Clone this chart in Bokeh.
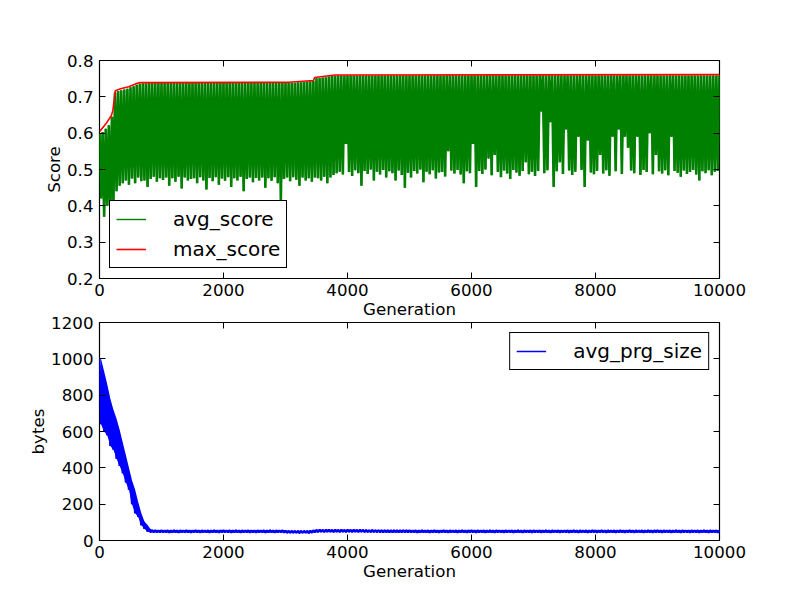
from bokeh.plotting import figure
from bokeh.models import Range1d, LinearAxis, FixedTicker, Legend, LegendItem
from bokeh.layouts import column
from bokeh.embed import file_html
from bokeh.resources import INLINE

# ---------------- data ----------------
generation = list(range(0, 10001, 25))

avg_score = [
    0.600, 0.420, 0.603, 0.370, 0.612, 0.400, 0.622, 0.375, 0.645, 0.410, 0.712, 0.440, 0.716, 0.455, 0.718, 0.462, 0.720, 0.470, 0.722, 0.458,
    0.726, 0.475, 0.729, 0.462, 0.733, 0.478, 0.736, 0.468, 0.737, 0.470, 0.737, 0.452, 0.738, 0.474, 0.738, 0.480, 0.738, 0.466, 0.738, 0.476,
    0.738, 0.471, 0.738, 0.478, 0.738, 0.455, 0.738, 0.476, 0.738, 0.466, 0.738, 0.480, 0.738, 0.448, 0.738, 0.478, 0.738, 0.470, 0.738, 0.474,
    0.738, 0.476, 0.738, 0.462, 0.738, 0.479, 0.738, 0.470, 0.738, 0.445, 0.738, 0.477, 0.738, 0.468, 0.738, 0.479, 0.738, 0.458, 0.738, 0.475,
    0.738, 0.469, 0.738, 0.479, 0.738, 0.452, 0.738, 0.476, 0.738, 0.470, 0.738, 0.480, 0.738, 0.440, 0.738, 0.474, 0.738, 0.478, 0.738, 0.465,
    0.738, 0.477, 0.738, 0.470, 0.738, 0.478, 0.738, 0.450, 0.738, 0.476, 0.738, 0.469, 0.738, 0.479, 0.738, 0.462, 0.738, 0.410, 0.738, 0.474,
    0.738, 0.478, 0.738, 0.468, 0.739, 0.479, 0.739, 0.472, 0.740, 0.455, 0.740, 0.478, 0.741, 0.470, 0.742, 0.476, 0.743, 0.466, 0.744, 0.478,
    0.751, 0.476, 0.752, 0.470, 0.753, 0.480, 0.754, 0.462, 0.756, 0.478, 0.757, 0.485, 0.758, 0.490, 0.759, 0.494, 0.759, 0.486, 0.759, 0.570,
    0.759, 0.493, 0.759, 0.482, 0.759, 0.498, 0.759, 0.490, 0.759, 0.455, 0.759, 0.496, 0.759, 0.488, 0.759, 0.500, 0.759, 0.470, 0.759, 0.494,
    0.759, 0.486, 0.759, 0.499, 0.759, 0.478, 0.759, 0.495, 0.759, 0.490, 0.759, 0.470, 0.759, 0.497, 0.759, 0.485, 0.759, 0.450, 0.759, 0.491,
    0.759, 0.478, 0.759, 0.496, 0.759, 0.489, 0.759, 0.500, 0.759, 0.465, 0.759, 0.494, 0.759, 0.487, 0.759, 0.498, 0.759, 0.475, 0.759, 0.492,
    0.759, 0.493, 0.759, 0.481, 0.759, 0.550, 0.759, 0.497, 0.759, 0.489, 0.759, 0.499, 0.759, 0.486, 0.759, 0.462, 0.759, 0.495, 0.759, 0.490,
    0.759, 0.570, 0.759, 0.452, 0.759, 0.496, 0.759, 0.488, 0.759, 0.500, 0.759, 0.530, 0.759, 0.484, 0.759, 0.540, 0.759, 0.493, 0.759, 0.479,
    0.759, 0.497, 0.759, 0.489, 0.759, 0.474, 0.759, 0.499, 0.759, 0.492, 0.759, 0.483, 0.759, 0.496, 0.759, 0.520, 0.759, 0.487, 0.759, 0.494,
    0.759, 0.482, 0.759, 0.496, 0.759, 0.660, 0.759, 0.490, 0.759, 0.498, 0.759, 0.630, 0.759, 0.452, 0.759, 0.495, 0.759, 0.520, 0.759, 0.488,
    0.759, 0.610, 0.759, 0.497, 0.759, 0.485, 0.759, 0.494, 0.759, 0.590, 0.759, 0.499, 0.759, 0.452, 0.759, 0.580, 0.759, 0.492, 0.759, 0.487,
    0.759, 0.496, 0.759, 0.540, 0.759, 0.489, 0.759, 0.498, 0.759, 0.483, 0.759, 0.590, 0.759, 0.495, 0.759, 0.610, 0.759, 0.488, 0.759, 0.590,
    0.759, 0.560, 0.759, 0.497, 0.759, 0.490, 0.759, 0.590, 0.759, 0.485, 0.759, 0.499, 0.759, 0.493, 0.759, 0.600, 0.759, 0.487, 0.759, 0.540,
    0.759, 0.495, 0.759, 0.489, 0.759, 0.498, 0.759, 0.484, 0.759, 0.590, 0.759, 0.496, 0.759, 0.491, 0.759, 0.480, 0.759, 0.497, 0.759, 0.488,
    0.759, 0.493, 0.759, 0.499, 0.759, 0.486, 0.759, 0.470, 0.759, 0.495, 0.759, 0.490, 0.759, 0.498, 0.759, 0.484, 0.759, 0.494, 0.759, 0.496,
    0.759,
]

max_gen = [0, 100, 190, 215, 255, 340, 470, 600, 650, 3050, 3450, 3470, 3600, 3800, 10000]
max_score = [0.604, 0.625, 0.648, 0.662, 0.717, 0.722, 0.728, 0.737, 0.739, 0.740, 0.745, 0.753, 0.756, 0.760, 0.761]

avg_prg_size = [
    1000, 640, 930, 600, 860, 580, 780, 520, 720, 500, 670, 450, 610, 410, 540, 370, 470, 320, 400, 280,
    330, 200, 280, 150, 210, 130, 150, 85, 105, 65, 85, 50, 62, 46, 57, 45, 56, 46, 55, 45,
    56, 45, 55, 46, 56, 44, 55, 45, 56, 46, 55, 44, 56, 45, 55, 46, 56, 45, 55, 44,
    55, 46, 56, 45, 55, 44, 56, 46, 55, 45, 56, 44, 55, 46, 56, 45, 55, 44, 56, 45,
    56, 45, 55, 46, 56, 44, 55, 45, 56, 46, 55, 44, 56, 45, 55, 46, 56, 44, 55, 45,
    55, 44, 56, 45, 55, 46, 56, 44, 55, 45, 56, 46, 55, 44, 56, 45, 55, 46, 56, 44,
    54, 43, 53, 42, 53, 42, 52, 42, 53, 41, 52, 42, 53, 42, 52, 41, 54, 43, 56, 45,
    58, 47, 59, 48, 58, 47, 59, 48, 59, 48, 58, 47, 59, 48, 58, 47, 59, 48, 58, 47,
    59, 48, 58, 47, 59, 48, 58, 47, 59, 48, 58, 47, 58, 47, 57, 46, 58, 47, 57, 46,
    57, 46, 56, 45, 57, 46, 56, 45, 56, 45, 57, 46, 56, 45, 56, 45, 57, 46, 56, 45,
    56, 45, 55, 46, 56, 44, 55, 45, 56, 46, 55, 45, 56, 44, 55, 46, 56, 45, 55, 44,
    55, 46, 56, 45, 55, 44, 56, 46, 55, 45, 56, 44, 55, 46, 56, 45, 55, 44, 56, 46,
    56, 45, 55, 44, 56, 46, 55, 45, 56, 44, 55, 46, 56, 45, 55, 44, 56, 46, 55, 45,
    55, 44, 56, 46, 55, 45, 56, 44, 55, 46, 56, 45, 55, 44, 56, 46, 55, 45, 56, 44,
    56, 46, 55, 45, 56, 44, 55, 46, 56, 45, 55, 44, 56, 46, 55, 45, 56, 44, 55, 46,
    55, 45, 56, 44, 55, 46, 56, 45, 55, 44, 56, 46, 55, 45, 56, 44, 55, 46, 56, 45,
    56, 44, 55, 46, 56, 45, 55, 44, 56, 46, 55, 45, 56, 44, 55, 46, 56, 45, 55, 44,
    55, 46, 56, 45, 55, 44, 56, 46, 55, 45, 56, 44, 55, 46, 56, 45, 55, 44, 56, 46,
    56, 45, 55, 44, 56, 46, 55, 45, 56, 44, 55, 46, 56, 45, 55, 44, 56, 46, 55, 45,
    55, 44, 56, 46, 55, 45, 56, 44, 55, 46, 56, 45, 55, 44, 56, 46, 55, 45, 56, 44,
    55,
]

x_ticks = [0, 2000, 4000, 6000, 8000, 10000]
score_ticks = [0.2, 0.3, 0.4, 0.5, 0.6, 0.7, 0.8]
bytes_ticks = [0, 200, 400, 600, 800, 1000, 1200]

FONT = "DejaVu Sans"
TICK_FS = "16.67px"
LEG_FS = "20px"


def style_axis(ax, ticks, show_labels=True, standoff=5):
    ax.ticker = FixedTicker(ticks=ticks)
    ax.major_tick_in = 6
    ax.major_tick_out = 0
    ax.major_tick_line_color = "black"
    ax.major_tick_line_width = 1
    ax.minor_tick_line_color = None
    ax.axis_line_color = None
    ax.major_label_text_font = FONT
    ax.major_label_text_color = "black"
    ax.axis_label_text_font = FONT
    ax.axis_label_text_font_size = TICK_FS
    ax.axis_label_text_font_style = "normal"
    ax.axis_label_text_color = "black"
    if show_labels:
        ax.major_label_text_font_size = TICK_FS
        ax.major_label_standoff = standoff
    else:
        ax.major_label_overrides = {t: "" for t in ticks}
        ax.major_label_text_font_size = "1px"
        ax.major_label_standoff = 0


def make_fig(height, yrange, yticks, ylabel, top_border, bottom_border):
    p = figure(width=790, height=height, output_backend="svg", toolbar_location=None,
               x_range=Range1d(0, 10000), y_range=Range1d(*yrange),
               min_border_left=99, min_border_right=71,
               min_border_top=top_border, min_border_bottom=bottom_border)
    p.background_fill_color = "white"
    p.outline_line_color = "black"
    p.outline_line_width = 1.2
    p.xgrid.visible = False
    p.ygrid.visible = False
    style_axis(p.xaxis[0], x_ticks, standoff=5)
    p.xaxis[0].axis_label = "Generation"
    p.xaxis[0].axis_label_standoff = 1
    style_axis(p.yaxis[0], yticks, standoff=6)
    p.yaxis[0].axis_label = ylabel
    p.yaxis[0].axis_label_standoff = 0
    top = LinearAxis()
    style_axis(top, x_ticks, show_labels=False)
    p.add_layout(top, "above")
    right = LinearAxis()
    style_axis(right, yticks, show_labels=False)
    p.add_layout(right, "right")
    return p


def style_legend(leg):
    leg.label_text_font = FONT
    leg.label_text_font_size = LEG_FS
    leg.label_text_color = "black"
    leg.border_line_color = "black"
    leg.border_line_width = 1
    leg.border_line_alpha = 1
    leg.background_fill_color = "white"
    leg.background_fill_alpha = 1
    leg.glyph_width = 30
    leg.glyph_height = 22
    leg.label_height = 22
    leg.label_standoff = 27
    leg.spacing = 6
    leg.padding = 6
    leg.margin = 10


# ---------------- top panel ----------------
p1 = make_fig(322, (0.2, 0.8), score_ticks, "Score", 60, 44)
p1.border_fill_color = "white"
# thin copy of the series, used as the legend sample; the dense band is drawn over it
r_avg_thin = p1.line(generation, avg_score, line_color="#008000", line_width=1.4)
p1.line(generation, avg_score, line_color="#008000", line_width=2.6)
r_max = p1.line(max_gen, max_score, line_color="#ff0000", line_width=1.6)
leg1 = Legend(items=[LegendItem(label="avg_score", renderers=[r_avg_thin]),
                     LegendItem(label="max_score", renderers=[r_max])],
              location="bottom_left")
style_legend(leg1)
p1.add_layout(leg1)

# ---------------- bottom panel ----------------
p2 = make_fig(284, (0, 1200), bytes_ticks, "bytes", 22, 44)
p2.border_fill_color = None
p2.margin = (-22, 0, 0, 0)
# fill between each low sample and the high sample before it, so the fast
# oscillation reads as a solid band, as in the original dense series
p2.varea(x=generation[1::2], y1=avg_prg_size[1::2], y2=avg_prg_size[0:-1:2],
         fill_color="#0000ff", fill_alpha=1.0)
r_prg_thin = p2.line(generation, avg_prg_size, line_color="#0000ff", line_width=1.4)
p2.line(generation, avg_prg_size, line_color="#0000ff", line_width=2.3)
leg2 = Legend(items=[LegendItem(label="avg_prg_size", renderers=[r_prg_thin])],
              location="top_right")
style_legend(leg2)
p2.add_layout(leg2)

layout = column(p1, p2, spacing=0)
open("out.html", "w").write(file_html(layout, INLINE))
